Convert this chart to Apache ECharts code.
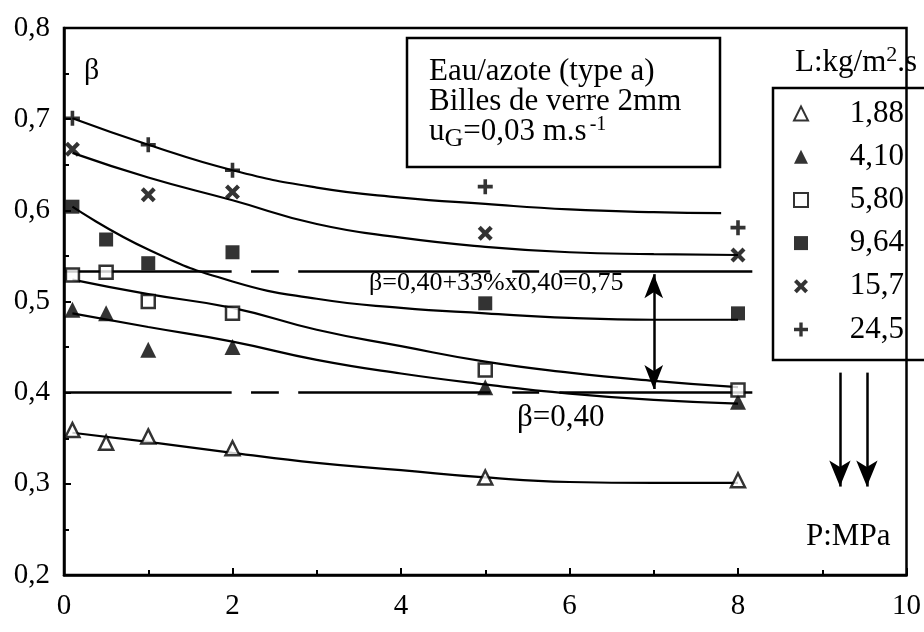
<!DOCTYPE html>
<html>
<head>
<meta charset="utf-8">
<script src="https://cdn.jsdelivr.net/npm/echarts@6/dist/echarts.min.js"></script>
<style>
html, body { margin: 0; padding: 0; background: #fff; }
#chart { width: 924px; height: 632px; }
</style>
</head>
<body>
<div id="chart"></div>
<script>
// pression P (MPa) des points mesures
var P_EXP = [0.1, 0.5, 1, 2, 5, 8];
var P_EXP2 = [0.1, 1, 2, 5, 8];
// beta mesure pour chaque debit liquide L
var beta188 = [0.359, 0.345, 0.352, 0.339, 0.307, 0.304];
var beta410 = [0.491, 0.487, 0.447, 0.450, 0.406, 0.390];
var beta580 = [0.529, 0.532, 0.500, 0.487, 0.425, 0.403];
var beta964 = [0.604, 0.568, 0.542, 0.554, 0.498, 0.487];
var beta157 = [0.667, 0.617, 0.620, 0.575, 0.551];
var beta245 = [0.701, 0.672, 0.644, 0.626, 0.581];

// courbes lissees
var P_FIT = [0.1, 1, 2, 3, 4, 5, 6, 7, 8];
var P_FIT245 = [0.1, 1, 2, 3, 4, 5, 6, 7, 7.8];
var fit188 = [0.356, 0.346, 0.334, 0.323, 0.315, 0.307, 0.302, 0.301, 0.301];
var fit410 = [0.487, 0.472, 0.456, 0.436, 0.421, 0.409, 0.399, 0.392, 0.388];
var fit580 = [0.524, 0.508, 0.493, 0.469, 0.451, 0.434, 0.422, 0.413, 0.406];
var fit964 = [0.604, 0.557, 0.522, 0.503, 0.493, 0.487, 0.482, 0.480, 0.480];
var fit157 = [0.663, 0.636, 0.611, 0.585, 0.570, 0.560, 0.554, 0.552, 0.551];
var fit245 = [0.701, 0.672, 0.644, 0.625, 0.614, 0.607, 0.601, 0.598, 0.597];

var L_NAMES = ['1,88', '4,10', '5,80', '9,64', '15,7', '24,5'];
var X_TICKS = [0, 2, 4, 6, 8, 10];
var Y_TICKS = [0.2, 0.3, 0.4, 0.5, 0.6, 0.7, 0.8];

// niveaux horizontaux et morceaux du trait interrompu
var LEVELS = [0.533, 0.40];
var LEVEL_SEGS = [[0, 1.99], [2.22, 2.55], [2.78, 5.06], [5.32, 5.64], [5.88, 8.17]];

var FONT = '"Liberation Serif", "DejaVu Serif", serif';

function zip(xs, ys) {
    var out = [];
    for (var i = 0; i < xs.length; i++) out.push([xs[i], ys[i]]);
    return out;
}

var CROSS = 'path://M2,0 L5,3 L8,0 L10,2 L7,5 L10,8 L8,10 L5,7 L2,10 L0,8 L3,5 L0,2 Z';
var PLUS = 'path://M3.8,0 L6.2,0 L6.2,3.8 L10,3.8 L10,6.2 L6.2,6.2 L6.2,10 L3.8,10 L3.8,6.2 L0,6.2 L0,3.8 L3.8,3.8 Z';

var open = { color: '#fff', borderColor: '#000', borderWidth: 2.5 };
var fill = { color: '#000' };

var markers = [
    { name: L_NAMES[0], x: P_EXP, y: beta188, symbol: 'triangle', size: 14, style: open },
    { name: L_NAMES[1], x: P_EXP, y: beta410, symbol: 'triangle', size: 16, style: fill },
    { name: L_NAMES[2], x: P_EXP, y: beta580, symbol: 'rect', size: 13, style: open },
    { name: L_NAMES[3], x: P_EXP, y: beta964, symbol: 'rect', size: 14, style: fill },
    { name: L_NAMES[4], x: P_EXP2, y: beta157, symbol: CROSS, size: 15, style: fill },
    { name: L_NAMES[5], x: P_EXP2, y: beta245, symbol: PLUS, size: 15, style: fill }
];
var curves = [
    [P_FIT, fit188], [P_FIT, fit410], [P_FIT, fit580],
    [P_FIT, fit964], [P_FIT, fit157], [P_FIT245, fit245]
];

var series = [];
curves.forEach(function (c, i) {
    series.push({
        name: 'fit' + i,
        type: 'line',
        data: zip(c[0], c[1]),
        smooth: 0.5,
        showSymbol: false,
        lineStyle: { color: '#000', width: 2.2 },
        silent: true,
        z: 2
    });
});
markers.forEach(function (m) {
    series.push({
        name: m.name,
        type: 'scatter',
        data: zip(m.x, m.y),
        symbol: m.symbol,
        symbolSize: m.size,
        itemStyle: m.style,
        z: 5
    });
});

// traits horizontaux + fleches
var mlData = [];
LEVELS.forEach(function (lv) {
    LEVEL_SEGS.forEach(function (s) {
        mlData.push([{ coord: [s[0], lv], symbol: 'none' }, { coord: [s[1], lv], symbol: 'none' }]);
    });
});
mlData.push([{ coord: [7, 0.530], symbol: 'arrow', symbolSize: [14, 24] },
             { coord: [7, 0.404], symbol: 'arrow', symbolSize: [14, 24] }]);
mlData.push([{ coord: [9.21, 0.422], symbol: 'none' }, { coord: [9.21, 0.297], symbol: 'arrow', symbolSize: [16, 26] }]);
mlData.push([{ coord: [9.53, 0.422], symbol: 'none' }, { coord: [9.53, 0.297], symbol: 'arrow', symbolSize: [16, 26] }]);

series.push({
    name: 'annot',
    type: 'line',
    data: [],
    markLine: {
        silent: true,
        animation: false,
        label: { show: false },
        lineStyle: { color: '#000', width: 2.5, type: 'solid' },
        itemStyle: { color: '#000' },
        data: mlData
    }
});

var chart = echarts.init(document.getElementById('chart'));
var option = {
    animation: false,
    backgroundColor: '#fff',
    grid: { left: 64, right: 12, top: 28, bottom: 57, show: true, borderColor: '#000', borderWidth: 2.5 },
    xAxis: {
        type: 'value', min: X_TICKS[0], max: X_TICKS[X_TICKS.length - 1], interval: 2,
        axisLine: { lineStyle: { color: '#000', width: 2.5 } },
        axisTick: { inside: true, length: 7, lineStyle: { color: '#000', width: 2 } },
        minorTick: { show: true, splitNumber: 2, length: 5, lineStyle: { color: '#000', width: 2 } },
        splitLine: { show: false },
        axisLabel: { color: '#000', fontFamily: FONT, fontSize: 29, margin: 17 }
    },
    yAxis: {
        type: 'value', min: Y_TICKS[0], max: Y_TICKS[Y_TICKS.length - 1], interval: 0.1,
        axisLine: { lineStyle: { color: '#000', width: 2.5 } },
        axisTick: { inside: true, length: 7, lineStyle: { color: '#000', width: 2 } },
        minorTick: { show: true, splitNumber: 2, length: 5, lineStyle: { color: '#000', width: 2 } },
        splitLine: { show: false },
        axisLabel: {
            color: '#000', fontFamily: FONT, fontSize: 29, margin: 14,
            formatter: function (v) { return v.toFixed(1).replace('.', ','); }
        }
    },
    legend: {
        data: L_NAMES,
        orient: 'vertical',
        left: 788,
        top: 93,
        itemWidth: 14,
        itemHeight: 14,
        itemGap: 12.2,
        selectedMode: false,
        formatter: '{r|{name}}',
        textStyle: {
            color: '#000', fontFamily: FONT, fontSize: 31,
            rich: { r: { width: 91, align: 'right', fontFamily: FONT, fontSize: 31, color: '#000' } }
        }
    },
    graphic: [
        {
            type: 'rect', shape: { x: 407, y: 38, width: 313, height: 129 },
            style: { fill: '#fff', stroke: '#000', lineWidth: 2.5 }, z: 10
        },
        {
            type: 'text', left: 429, top: 56, z: 11,
            style: {
                text: 'Eau/azote (type a)\nBilles de verre 2mm\n{n|u}{sub|G}{n|=0,03 m.s}{sup|-1}',
                font: '31px ' + FONT, fill: '#000', lineHeight: 30,
                rich: {
                    n: { font: '31px ' + FONT, fill: '#000' },
                    sub: { font: '26px ' + FONT, fill: '#000', padding: [16, 0, 0, 0] },
                    sup: { font: '20px ' + FONT, fill: '#000', padding: [0, 0, 14, 3] }
                }
            }
        },
        {
            type: 'rect', shape: { x: 773, y: 88, width: 170, height: 272 },
            style: { fill: 'none', stroke: '#000', lineWidth: 2.5 }, z: 10
        },
        {
            type: 'text', left: 795, top: 44, z: 11,
            style: {
                text: '{n|L:kg/m}{sup|2}{n|.s}',
                rich: {
                    n: { font: '31px ' + FONT, fill: '#000' },
                    sup: { font: '22px ' + FONT, fill: '#000', padding: [0, 0, 16, 0] }
                }
            }
        },
        { type: 'text', left: 84, top: 56, z: 11, style: { text: 'β', font: '30px ' + FONT, fill: '#000' } },
        { type: 'text', left: 369, top: 270, z: 11, style: { text: 'β=0,40+33%x0,40=0,75', font: '26px ' + FONT, fill: '#000' } },
        { type: 'text', left: 517, top: 402, z: 11, style: { text: 'β=0,40', font: '31px ' + FONT, fill: '#000' } },
        { type: 'text', left: 806, top: 521, z: 11, style: { text: 'P:MPa', font: '31px ' + FONT, fill: '#000' } }
    ],
    series: series
};
chart.setOption(option);
</script>
</body>
</html>
